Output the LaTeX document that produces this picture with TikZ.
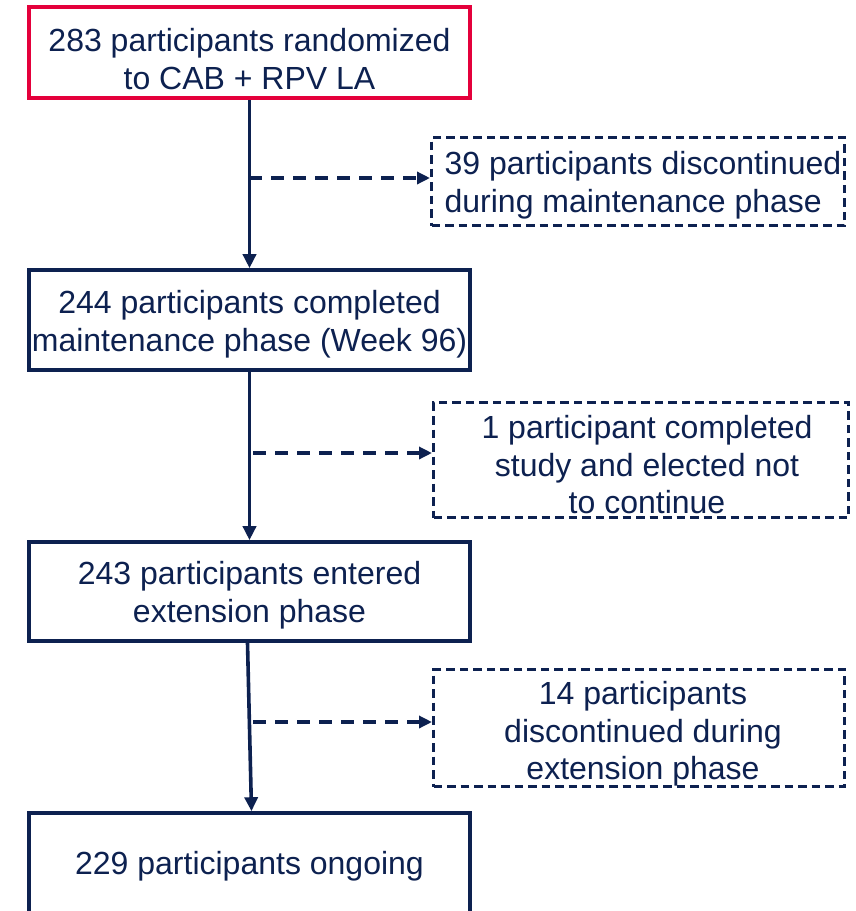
\documentclass[tikz,border=0pt]{standalone}
\usepackage{fontspec}
\setmainfont{Liberation Sans}
\usetikzlibrary{arrows.meta}
\definecolor{navy}{HTML}{0D2150}
\definecolor{crim}{HTML}{E4003B}
\begin{document}
\begin{tikzpicture}[x=1pt,y=-1pt,
  every node/.style={font=\fontsize{32}{37.5}\selectfont, text=navy, align=center, inner sep=0pt},
  solidbox/.style={draw=navy, line width=3.6pt, minimum width=441pt},
  redbox/.style={draw=crim, line width=3.6pt, minimum width=441pt},
  dashbox/.style={draw=navy, line width=3pt, dash pattern=on 8.5pt off 5pt},
  flow/.style={draw=navy, line width=3.6pt, -{Triangle[length=14pt,width=13pt]}},
  side/.style={draw=navy, line width=3.4pt, dash pattern=on 13pt off 9pt, -{Triangle[length=13pt,width=12pt]}}
]
\useasboundingbox (0,0) rectangle (856,911);
\clip (0,0) rectangle (856,911);
\fill[white] (0,0) rectangle (856,911);

\node[redbox, minimum height=91pt] (b1) at (249.5,52.5) {};
\node at (249.5,59) {283 participants randomized\\to CAB + RPV LA};

\node[solidbox, minimum height=100pt] (b2) at (249.5,320) {};
\node at (249.5,324) {244 participants completed\\maintenance phase (Week 96)};

\node[solidbox, minimum height=99pt] (b3) at (249.5,591.5) {};
\node at (249.5,595) {243 participants entered\\extension phase};

\node[solidbox, minimum height=196pt] (b4) at (249.5,911) {};
\node at (249.5,866) {229 participants ongoing};

\node[dashbox, minimum width=413pt, minimum height=88pt] (d1) at (638,181.5) {};
\node[align=left] at (643,185) {39 participants discontinued\\during maintenance phase};

\node[dashbox, minimum width=415pt, minimum height=115pt] (d2) at (641,460) {};
\node at (647,465) {1 participant completed\\study and elected not\\to continue};

\node[dashbox, minimum width=411pt, minimum height=117pt] (d3) at (639,728) {};
\node at (643,734) {14 participants\\discontinued during\\extension phase};

\draw[flow] (b1.south) -- (b2.north);
\draw[flow] (b2.south) -- (b3.north);
\draw[flow] ([xshift=-2pt]b3.south) -- ([xshift=2pt]b4.north);

\coordinate (j1) at (249,178);
\coordinate (j2) at (253,453);
\coordinate (j3) at (253,722);
\draw[side] (j1) -- (j1 -| d1.west);
\draw[side] (j2) -- (j2 -| d2.west);
\draw[side] (j3) -- (j3 -| d3.west);
\end{tikzpicture}
\end{document}
